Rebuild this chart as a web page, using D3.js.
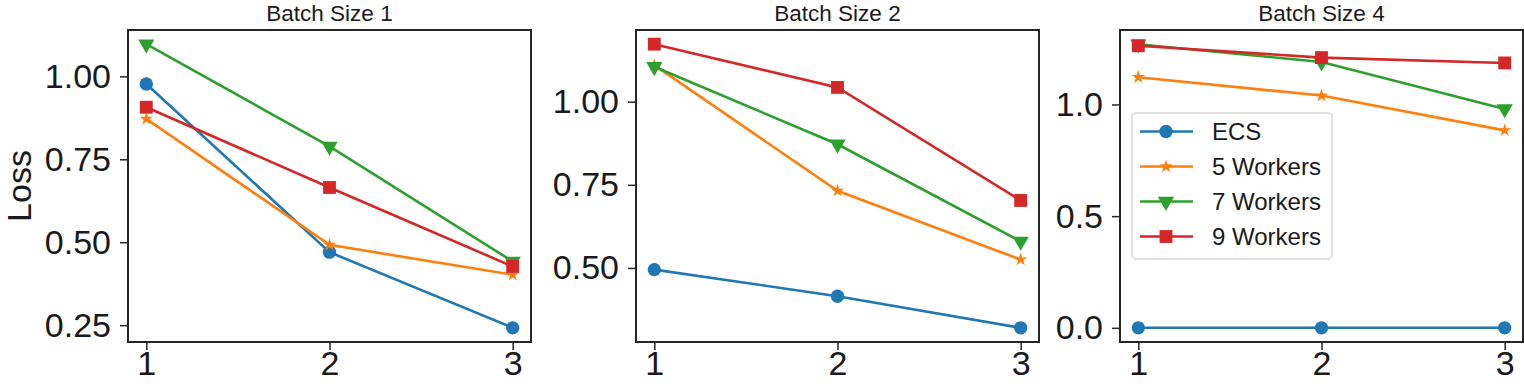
<!DOCTYPE html>
<html>
<head>
<meta charset="utf-8">
<script src="https://cdn.jsdelivr.net/npm/d3@7"></script>
<style>
  body { margin: 0; background: #fff; }
  text { font-family: "Liberation Sans", Arial, sans-serif; fill: #1a1a1a; }
</style>
</head>
<body>
<svg width="1524" height="384"></svg>
<script>
const steps = [1, 2, 3];
const seriesNames = ["ECS", "5 Workers", "7 Workers", "9 Workers"];
const colors = ["#1f77b4", "#ff7f0e", "#2ca02c", "#d62728"];
const panelTitles = ["Batch Size 1", "Batch Size 2", "Batch Size 4"];

// loss per panel, one row per series
const batch1 = [
  [0.977, 0.470, 0.242],
  [0.872, 0.492, 0.402],
  [1.097, 0.789, 0.442],
  [0.907, 0.665, 0.427]
];
const batch2 = [
  [0.495, 0.415, 0.320],
  [1.110, 0.732, 0.525],
  [1.105, 0.872, 0.580],
  [1.173, 1.043, 0.703]
];
const batch4 = [
  [0.0, 0.0, 0.0],
  [1.122, 1.040, 0.884],
  [1.270, 1.190, 0.980],
  [1.263, 1.210, 1.186]
];
const yTicks1 = [0.25, 0.5, 0.75, 1.0];
const yTicks2 = [0.5, 0.75, 1.0];
const yTicks4 = [0.0, 0.5, 1.0];

const panels = [
  {title: panelTitles[0], data: batch1, ticks: yTicks1, fmt: ".2f", left: 128},
  {title: panelTitles[1], data: batch2, ticks: yTicks2, fmt: ".2f", left: 636},
  {title: panelTitles[2], data: batch4, ticks: yTicks4, fmt: ".1f", left: 1120}
];

const svg = d3.select("svg");
const mTop = 30, w = 403, h = 312;
const ink = "#262626";

const symbols = [
  d3.symbol().type(d3.symbolCircle).size(140),
  d3.symbol().type(d3.symbolStar).size(55),
  d3.symbol().type(d3.symbolTriangle).size(115),
  d3.symbol().type(d3.symbolSquare).size(165)
];
const symRot = [0, 0, 180, 0];

panels.forEach((p, pi) => {
  const g = svg.append("g").attr("transform", `translate(${p.left},${mTop})`);

  const x = d3.scaleLinear().domain([0.9, 3.1]).range([0, w]);
  const all = p.data.flat();
  const lo = d3.min(all), hi = d3.max(all), pad = (hi - lo) * 0.05;
  const y = d3.scaleLinear().domain([lo - pad, hi + pad]).range([h, 0]);

  // axes
  const xa = g.append("g").attr("transform", `translate(0,${h})`)
    .call(d3.axisBottom(x).tickValues(steps).tickFormat(d3.format("d")).tickSize(8).tickPadding(4));
  const ya = g.append("g")
    .call(d3.axisLeft(y).tickValues(p.ticks).tickFormat(d3.format(p.fmt)).tickSize(8).tickPadding(9));
  [xa, ya].forEach(a => {
    a.select(".domain").remove();
    a.selectAll(".tick line").attr("stroke", ink).attr("stroke-width", 1.5);
    a.selectAll(".tick text").attr("font-size", 34).attr("fill", "#1a1a1a")
      .style("font-family", "'Liberation Sans', Arial, sans-serif");
  });
  xa.selectAll(".tick text").attr("dy", "0.71em").attr("y", 9);

  // lines + markers
  const line = d3.line().x((d, i) => x(steps[i])).y(d => y(d));
  p.data.forEach((vals, si) => {
    g.append("path").datum(vals)
      .attr("d", line).attr("fill", "none")
      .attr("stroke", colors[si]).attr("stroke-width", 2.6);
    g.selectAll(null).data(vals).enter().append("path")
      .attr("d", symbols[si])
      .attr("transform", (d, i) => `translate(${x(steps[i])},${y(d)}) rotate(${symRot[si]})`)
      .attr("fill", colors[si]);
  });

  // frame
  g.append("rect").attr("width", w).attr("height", h)
    .attr("fill", "none").attr("stroke", ink).attr("stroke-width", 2);

  // title
  svg.append("text")
    .attr("x", p.left + w / 2).attr("y", 20.5)
    .attr("text-anchor", "middle").attr("font-size", 22.5)
    .text(p.title);

  if (pi === 2) {
    const lg = g.append("g").attr("transform", `translate(12,83)`);
    lg.append("rect").attr("width", 200).attr("height", 146).attr("rx", 4)
      .attr("fill", "#fff").attr("fill-opacity", 0.8)
      .attr("stroke", "#d6d6d6").attr("stroke-width", 1.5);
    seriesNames.forEach((name, si) => {
      const ry = 18.5 + si * 35;
      lg.append("line").attr("x1", 8).attr("x2", 61).attr("y1", ry).attr("y2", ry)
        .attr("stroke", colors[si]).attr("stroke-width", 2.6);
      lg.append("path").attr("d", symbols[si])
        .attr("transform", `translate(34,${ry}) rotate(${symRot[si]})`)
        .attr("fill", colors[si]);
      lg.append("text").attr("x", 80).attr("y", ry + 8.5)
        .attr("font-size", 24).text(name);
    });
  }
});

// y label
svg.append("text")
  .attr("transform", `translate(31,${mTop + h / 2}) rotate(-90)`)
  .attr("text-anchor", "middle").attr("font-size", 34)
  .text("Loss");
</script>
</body>
</html>
